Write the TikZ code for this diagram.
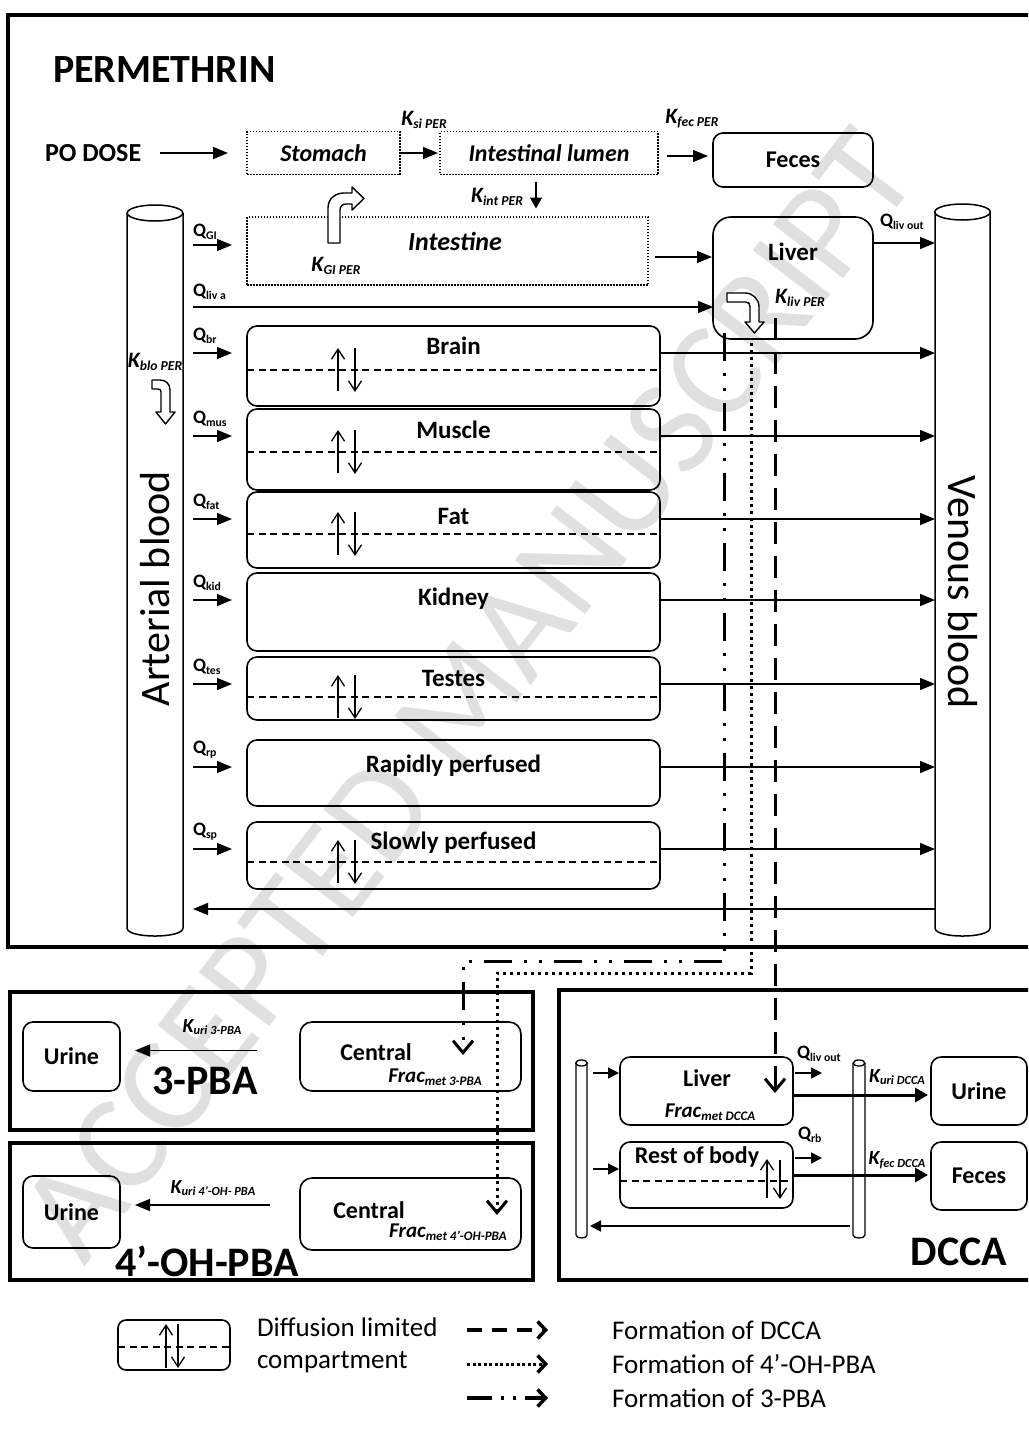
\documentclass[tikz,border=0pt]{standalone}
\usepackage{fontspec}
\setmainfont{Carlito}
\usetikzlibrary{arrows.meta,calc}
\newcommand\myfs[1]{\fontsize{#1}{#1}\selectfont}
\newcommand\dn[1]{\raisebox{-0.3ex}{\scalebox{0.62}{#1}}}
\tikzset{
 frame/.style={draw, line width=4.5pt, inner sep=0pt},
 cbox/.style={draw, line width=1.6pt, rounded corners=10pt, inner sep=0pt},
 dotbox/.style={draw, line width=1.4pt, dash pattern=on 1.5pt off 1.5pt, inner sep=0pt},
 flow/.style={line width=1.5pt, -{Triangle[length=15pt,width=12pt]}},
 flowsm/.style={line width=1.5pt, -{Triangle[length=11pt,width=11pt]}},
 thickflow/.style={line width=3pt, -{Triangle[length=13pt,width=14pt]}},
 sep/.style={line width=1.2pt, dash pattern=on 7pt off 4.5pt},
 diff/.style={line width=1.3pt, -{Straight Barb[length=10pt,width=13pt]}},
 organ/.style={font=\myfs{25}\bfseries},
 qlab/.style={font=\myfs{19}\bfseries, anchor=west},
 klab/.style={font=\myfs{22}\bfseries\itshape},
 hollow/.style={draw, line width=1.4pt, fill=white, line join=round},
 fdcca/.style={line width=3pt, dash pattern=on 22pt off 12pt},
 f4oh/.style={line width=3pt, dash pattern=on 3pt off 4pt},
 f3pba/.style={line width=3pt, dash pattern=on 28pt off 12pt on 3pt off 12pt on 3pt off 12pt},
 formtip/.style={-{Straight Barb[length=12pt,width=20pt]}},
 legtip/.style={-{Straight Barb[length=8pt,width=17pt,line width=3.5pt]}},
 bigtitle/.style={font=\myfs{42}\bfseries},
 cyl/.style={line width=1.5pt},
}
\begin{document}
\begin{tikzpicture}[x=1pt,y=-1pt, every node/.style={inner sep=0pt,outer sep=0pt}]
\useasboundingbox (0,0) rectangle (1028,1448);
\clip (0,0) rectangle (1028,1448);
\fill[white] (0,0) rectangle (1028,1448);

% watermark
\node[rotate=52.5, font=\myfs{138}, text=black!12] (wm) at (468,695) {ACCEPTED MANUSCRIPT};

% ---------- PERMETHRIN frame ----------
\node[frame, anchor=north west, minimum width=1032pt, minimum height=932pt] (perm) at (8,15) {};
\node[font=\myfs{40}\bfseries, anchor=west] (title) at (53,70) {PERMETHRIN};

% blood cylinders
\node[minimum width=56pt, minimum height=715pt] (art) at (155,570.5) {};
\node[minimum width=55pt, minimum height=716pt] (ven) at (962.5,570) {};
\foreach \cc in {art,ven}{
 \draw[cyl] (\cc.north west) -- (\cc.south west) .. controls ($(\cc.south west)+(0,10.7)$) and ($(\cc.south east)+(0,10.7)$) .. (\cc.south east) -- (\cc.north east);
 \draw[cyl] (\cc.north) ellipse [x radius=27.8, y radius=8];
}
\node[rotate=90, font=\myfs{42}] (artt) at ($(art.center)+(0,18)$) {Arterial blood};
\node[rotate=-90, font=\myfs{42}] (vent) at ($(ven.center)+(0,22)$) {Venous blood};

% oral route
\node[font=\myfs{26}\bfseries, anchor=west] (po) at (45,153) {PO DOSE};
\node[dotbox, minimum width=153pt, minimum height=43pt, font=\myfs{24}\bfseries\itshape] (stom) at (323.5,153) {Stomach};
\node[dotbox, minimum width=218pt, minimum height=43pt, font=\myfs{24}\bfseries\itshape] (lumen) at (549,153) {Intestinal lumen};
\node[cbox, minimum width=160pt, minimum height=54pt, font=\myfs{24}\bfseries] (feces) at (793,160) {Feces};
\draw[flow] ([xshift=19pt]po.east) -- ([xshift=-19pt]stom.west);
\draw[flow] (stom.east) -- ([xshift=-2pt]lumen.west);
\draw[flow] ($(lumen.east)+(9,3)$) -- ($(feces.west |- lumen.east)+(-5,3)$);
\node[klab] (ksi) at (424,120) {K\dn{si PER}};
\node[klab] (kfec) at (692,119) {K\dn{fec PER}};
\node[klab] (kint) at (497,197) {K\dn{int PER}};
\draw[line width=1.5pt, -{Triangle[length=11pt,width=12pt]}] ($(lumen.south)+(-13,7)$) -- ($(lumen.south)+(-13,34)$);

% intestine
\node[dotbox, minimum width=401pt, minimum height=68pt] (intest) at (447.5,251) {};
\node[font=\myfs{26}\bfseries\itshape] (intt) at (455,241) {Intestine};
\node[klab] (kgi) at (336,266) {K\dn{GI PER}};
\draw[hollow] (328,243) -- (328,208) .. controls (328,199) and (335,193) .. (344,193) -- (352,193) -- (352,187) -- (364,198.5) -- (352,210) -- (352,204) -- (346,204) .. controls (342.5,204) and (340,206.5) .. (340,210) -- (340,243) -- cycle;

% liver
\node[cbox, rounded corners=18pt, minimum width=160pt, minimum height=122pt] (liver) at (793,278) {};
\node[organ] (livt) at (793,252) {Liver};
\node[klab] (kliv) at (800,298) {K\dn{liv PER}};
\draw[hollow] (727,293) -- (745,293) .. controls (753,293) and (759,299) .. (759,307) -- (759,322) -- (764,322) -- (754.5,333) -- (745,322) -- (750,322) -- (750,307) .. controls (750,304) and (749,302) .. (746,302) -- (727,302) -- cycle;

\draw[flow] ($(art.east |- intest.west)+(10,-6)$) -- ($(intest.west)+(-15,-6)$);
\node[qlab] (qgi) at (193,232) {Q\dn{GI}};
\draw[flow] ($(intest.east)+(7,6)$) -- ($(liver.west |- intest.east)+(-1,6)$);
\coordinate (liva) at (193,307);
\draw[flow] (liva) -- (liva -| liver.west);
\node[qlab] (qliva) at (193,292) {Q\dn{liv a}};
\draw[flow] ($(liver.north east)+(0,26)$) -- ($(ven.west |- liver.north)+(0,26)$);
\node[qlab] (qlivout) at (880,222) {Q\dn{liv out}};

% K blo
\node[klab] (kblo) at (155,362) {K\dn{blo PER}};
\draw[hollow] (152,380) -- (160,380) .. controls (166,380) and (170,384) .. (170,390) -- (170,412) -- (175,412) -- (165.5,424) -- (156,412) -- (161,412) -- (161,392) .. controls (161,390) and (160,389) .. (158,389) -- (152,389) -- cycle;

% organ rows
\foreach \nm/\yy/\hh/\txt/\toff/\dsh/\qq in {
 brain/326/80/Brain/20/44/br,
 muscle/409/81/Muscle/21/43/mus,
 fat/492/76/Fat/24/42/fat,
 kidney/573/78/Kidney/26/0/kid,
 testes/657/63/Testes/21/40/tes,
 rapid/740/66/Rapidly perfused/26/0/rp,
 slow/822/67/Slowly perfused/21/40/sp}{
 \node[cbox, minimum width=413pt, minimum height=\hh pt, anchor=north west] (\nm) at (247,\yy) {};
 \node[organ] (\nm-t) at ($(\nm.north)+(0,\toff)$) {\txt};
 \node[qlab] (\nm-q) at ($(\nm.north west)+(-54,10)$) {Q\dn{\qq}};
 \draw[flow] ($(art.east |- \nm.north)+(10,27)$) -- ($(\nm.north west)+(-15,27)$);
 \draw[flow] ($(\nm.north east)+(0,27)$) -- ($(ven.west |- \nm.north)+(0,27)$);
 \ifnum\dsh>0
  \draw[sep] ($(\nm.north west)+(0,\dsh)$) -- ($(\nm.north east)+(0,\dsh)$);
  \draw[diff] ($(\nm.north west)+(91,\dsh+21)$) -- ++(0,-43);
  \draw[diff] ($(\nm.north west)+(108,\dsh-22)$) -- ++(0,44);
 \fi
}
\coordinate (ret) at (935,909);
\draw[flow] (ret) -- ($(ret -| art.east)+(10,0)$);

% ---------- 3-PBA ----------
\node[frame, anchor=north west, minimum width=523pt, minimum height=138pt] (pba3) at (10,992) {};
\node[cbox, minimum width=97pt, minimum height=69pt, font=\myfs{24}\bfseries] (u3) at (71.5,1056.5) {Urine};
\node[cbox, rounded corners=12pt, minimum width=221pt, minimum height=69pt] (c3) at (410.5,1056.5) {};
\node[font=\myfs{24}\bfseries] (c3t) at (376,1052) {Central};
\node[klab, font=\myfs{21}\bfseries\itshape] (f3) at (435,1077) {Frac\dn{met 3-PBA}};
\draw[flow] ($(c3.west)+(-43,-6)$) -- ($(u3.east)+(15,-6)$);
\node[klab, font=\myfs{20}\bfseries\itshape] (ku3) at (212,1027) {K\dn{uri 3-PBA}};
\node[bigtitle] (t3) at (205,1081) {3-PBA};

% ---------- 4'-OH-PBA ----------
\node[frame, anchor=north west, minimum width=523pt, minimum height=137pt] (pba4) at (10,1143) {};
\node[cbox, minimum width=97pt, minimum height=72pt, font=\myfs{24}\bfseries] (u4) at (71.5,1212) {Urine};
\node[cbox, rounded corners=12pt, minimum width=221pt, minimum height=72pt] (c4) at (410.5,1214) {};
\node[font=\myfs{24}\bfseries] (c4t) at (369,1210) {Central};
\node[klab, font=\myfs{21}\bfseries\itshape] (f4) at (448,1232) {Frac\dn{met 4’-OH-PBA}};
\draw[flow] ($(c4.west)+(-30,-9)$) -- ($(u4.east)+(15,-7)$);
\node[klab, font=\myfs{20}\bfseries\itshape] (ku4) at (213,1188) {K\dn{uri 4’-OH- PBA}};
\node[bigtitle] (t4) at (207,1261) {4’-OH-PBA};

% ---------- DCCA ----------
\node[frame, anchor=north west, minimum width=481pt, minimum height=290pt] (dcca) at (559,990) {};
\node[minimum width=11pt, minimum height=172pt] (dl) at (581.5,1149) {};
\node[minimum width=12pt, minimum height=172pt] (dr) at (859,1149) {};
\foreach \cc in {dl,dr}{
 \draw[line width=1.3pt] (\cc.north west) -- (\cc.south west) .. controls ($(\cc.south west)+(0,4)$) and ($(\cc.south east)+(0,4)$) .. (\cc.south east) -- (\cc.north east);
 \draw[line width=1.3pt] (\cc.north) ellipse [x radius=5.8, y radius=3];
}
\node[cbox, minimum width=173pt, minimum height=68pt] (dliv) at (706.5,1091) {};
\node[font=\myfs{24}\bfseries] (dlivt) at (707,1078) {Liver};
\node[klab, font=\myfs{21}\bfseries\itshape] (fd) at (710,1112) {Frac\dn{met DCCA}};
\node[cbox, minimum width=173pt, minimum height=66pt] (rest) at (706.5,1175) {};
\node[font=\myfs{24}\bfseries] (restt) at (697,1157) {Rest of body};
\draw[sep] ($(rest.west)+(0,6)$) -- ($(rest.east)+(0,6)$);
\draw[diff] (767,1198) -- (767,1159);
\draw[diff] (780,1160) -- (780,1199);
\node[cbox, minimum width=96pt, minimum height=68pt, font=\myfs{24}\bfseries] (ud) at (979,1091) {Urine};
\node[cbox, minimum width=96pt, minimum height=68pt, font=\myfs{24}\bfseries] (fe) at (979,1176) {Feces};
\draw[flowsm] ($(dl.east |- dliv.west)+(6,-18)$) -- ($(dliv.west)+(-1,-18)$);
\draw[flowsm] ($(dl.east |- rest.west)+(6,-6)$) -- ($(rest.west)+(-1,-6)$);
\draw[flowsm] ($(dliv.east)+(2,-18)$) -- ++(27,0);
\node[qlab] (qlo) at (797,1054) {Q\dn{liv out}};
\draw[flowsm] ($(rest.east)+(2,-17)$) -- ++(27,0);
\node[qlab] (qrb) at (798,1135) {Q\dn{rb}};
\draw[thickflow] ($(dliv.east)+(0,4)$) -- ($(ud.west)+(-3,4)$);
\draw[thickflow] (rest.east) -- ($(fe.west |- rest.east)+(-3,0)$);
\node[klab, font=\myfs{20}\bfseries\itshape] (kud) at (897,1077) {K\dn{uri DCCA}};
\node[klab, font=\myfs{20}\bfseries\itshape] (kfd) at (897,1160) {K\dn{fec DCCA}};
\draw[flowsm] ($(dr.west)+(-3,77)$) -- ($(dl.east)+(3,77)$);
\node[bigtitle] (td) at (959,1252) {DCCA};

% ---------- formation lines ----------
\coordinate (e3) at (463,1055);
\coordinate (e4) at (497,1215);
\coordinate (ed) at (775,1093);
\draw[f3pba, formtip] ($(liver.south west)+(11,-6)$) |- (463,961) -- (e3);
\draw[f4oh, formtip] ($(liver.south west)+(38,4)$) |- (497,973) -- (e4);
\draw[fdcca, formtip] ($(liver.south west)+(62,-21)$) -- (ed);

% ---------- legend ----------
\node[cbox, rounded corners=8pt, minimum width=112pt, minimum height=50pt] (leg) at (174,1345) {};
\draw[sep] ($(leg.west)+(0,2)$) -- ($(leg.east)+(0,2)$);
\draw[diff] ($(leg.south)+(-8,-2)$) -- ($(leg.north)+(-8,4)$);
\draw[diff] ($(leg.north)+(4,4)$) -- ($(leg.south)+(4,-2)$);
\node[font=\myfs{27}, anchor=west] (lt1) at (257,1327) {Diffusion limited};
\node[font=\myfs{27}, anchor=west] (lt2) at (257,1362) {compartment};
\node[font=\myfs{27}, anchor=west] (la) at (612,1330) {Formation of DCCA};
\node[font=\myfs{27}, anchor=west] (lb) at (612,1364) {Formation of 4’-OH-PBA};
\node[font=\myfs{27}, anchor=west] (lc) at (612,1398) {Formation of 3-PBA};
\coordinate (l1) at (467,1330);
\coordinate (l2) at (467,1364);
\coordinate (l3) at (467,1398);
\draw[line width=3.5pt, dash pattern=on 15pt off 10pt, legtip] (l1) -- ($(la.west)+(-64,0)$);
\draw[line width=3pt, dash pattern=on 3pt off 2.5pt, legtip] (l2) -- ($(lb.west)+(-64,0)$);
\draw[line width=3.5pt, dash pattern=on 25pt off 9pt on 3pt off 9pt on 3pt off 9pt, legtip] (l3) -- ($(lc.west)+(-64,0)$);
\end{tikzpicture}
\end{document}
